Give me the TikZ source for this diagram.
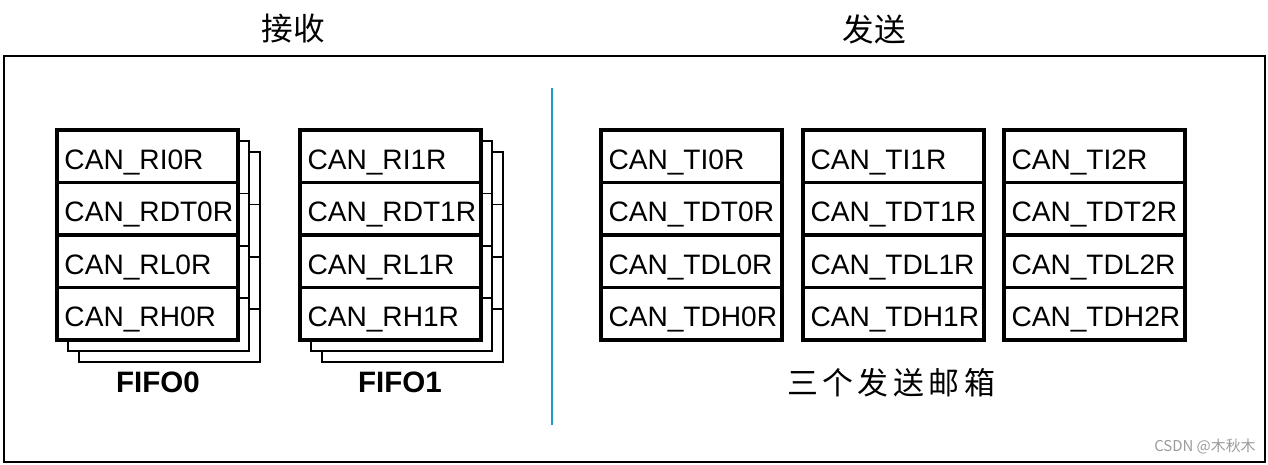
\documentclass[tikz,border=0pt]{standalone}
\usepackage{fontspec}
\setmainfont{Liberation Sans}
\newfontfamily\cjk{Noto Sans CJK SC}
\newfontfamily\cjkwide{Noto Sans CJK SC}[LetterSpace=14.5]
\usetikzlibrary{positioning,calc,backgrounds}
\definecolor{Divider}{HTML}{1B9DC6}
\definecolor{Mark}{HTML}{9A9A9A}

\begin{document}
\begin{tikzpicture}[x=0.02cm,y=-0.02cm,
    node distance=0pt,
    reg/.style={draw,line width=2pt,fill=white,outer sep=0pt,
      minimum width=3.62cm,minimum height=1.05cm,text width=3.32cm,
      text height=0.52cm,text depth=0pt,
      inner xsep=0.15cm,inner ysep=0pt,align=left,
      font=\fontsize{16}{18}\selectfont},
    sheet/.style={draw,line width=1.1pt,fill=white},
    title/.style={font=\cjk\fontsize{18}{20}\selectfont,inner sep=0pt},
    fifolabel/.style={font=\bfseries\fontsize{16.8}{19}\selectfont,inner sep=0pt}
]
\useasboundingbox (0,0) rectangle (1268,465);
\draw[line width=1.2pt] (4,56) rectangle (1265,462);
\node[title] (rxtitle) at (293,29) {接收};
\node[title] (txtitle) at (874,29) {发送};
\draw[Divider,line width=0.9pt] (552,88) -- (552,425);
% receive FIFOs
\node[reg,anchor=north west] (rx0i) at (57,130) {CAN\_RI0R};
\node[reg,below=of rx0i] (rx0dt) {CAN\_RDT0R};
\node[reg,below=of rx0dt] (rx0l) {CAN\_RL0R};
\node[reg,below=of rx0l] (rx0h) {CAN\_RH0R};
\node[reg,anchor=north west] (rx1i) at (300,130) {CAN\_RI1R};
\node[reg,below=of rx1i] (rx1dt) {CAN\_RDT1R};
\node[reg,below=of rx1dt] (rx1l) {CAN\_RL1R};
\node[reg,below=of rx1l] (rx1h) {CAN\_RH1R};
\node[fifolabel] (fifo0) at (158,382) {FIFO0};
\node[fifolabel] (fifo1) at (400,382) {FIFO1};
% transmit mailboxes
\node[reg,anchor=north west] (tx0i) at (601,130) {CAN\_TI0R};
\node[reg,below=of tx0i] (tx0dt) {CAN\_TDT0R};
\node[reg,below=of tx0dt] (tx0dl) {CAN\_TDL0R};
\node[reg,below=of tx0dl] (tx0dh) {CAN\_TDH0R};
\node[reg,anchor=north west] (tx1i) at (803,130) {CAN\_TI1R};
\node[reg,below=of tx1i] (tx1dt) {CAN\_TDT1R};
\node[reg,below=of tx1dt] (tx1dl) {CAN\_TDL1R};
\node[reg,below=of tx1dl] (tx1dh) {CAN\_TDH1R};
\node[reg,anchor=north west] (tx2i) at (1004,130) {CAN\_TI2R};
\node[reg,below=of tx2i] (tx2dt) {CAN\_TDT2R};
\node[reg,below=of tx2dt] (tx2dl) {CAN\_TDL2R};
\node[reg,below=of tx2dl] (tx2dh) {CAN\_TDH2R};
\node[font=\cjkwide\fontsize{17.6}{20}\selectfont] (txlabel) at (891,383) {三个发送邮箱};
\node[anchor=east,inner sep=0pt,text=Mark,font=\cjk\fontsize{8.5}{10}\selectfont] (mark) at (1256,447) {CSDN @木秋木};
% stacked sheets behind each FIFO
\begin{scope}[on background layer]
  \foreach \f in {0,1}
    \foreach \off in {22,11} {
      \draw[sheet] ($(rx\f i.north west)+(\off,\off)$) rectangle ($(rx\f h.south east)+(\off,\off)$);
      \foreach \r in {i,dt,l}
        \draw[sheet] ($(rx\f\r.south west)+(\off,\off)$) -- ($(rx\f\r.south east)+(\off,\off)$);
    }
\end{scope}
\end{tikzpicture}
\end{document}
